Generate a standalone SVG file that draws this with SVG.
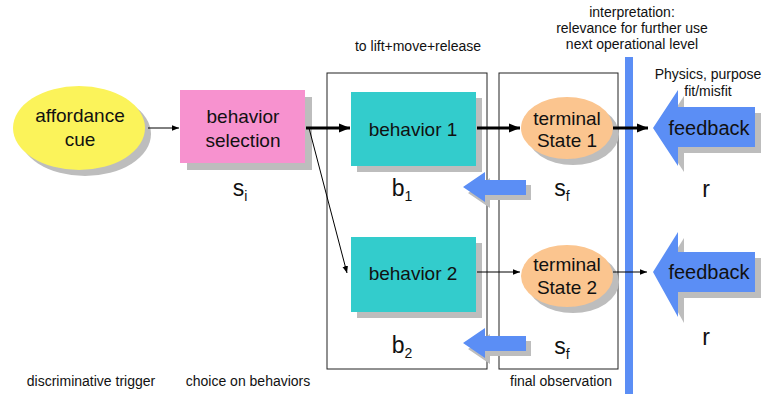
<svg xmlns="http://www.w3.org/2000/svg" width="762" height="394" viewBox="0 0 762 394">
<style>
text{font-family:"Liberation Sans",Arial,sans-serif;fill:#111;text-anchor:middle}
.t{font-size:19px}
.fb{font-size:20px}
.s{font-size:14px}
.big{font-size:23px}
.sub{font-size:14px}
.sh{fill:#bdbdbd}
.frame{fill:none;stroke:#222;stroke-width:1}
.thin{stroke:#000;stroke-width:1;fill:none}
.thick{stroke:#000;stroke-width:3;fill:none}
.blue{fill:#5b8ef5}
</style>
<defs>
<marker id="ah" viewBox="0 0 10 10" refX="10" refY="5" markerWidth="7" markerHeight="7" markerUnits="userSpaceOnUse" orient="auto"><path d="M0,1 L10,5 L0,9 z" fill="#000"/></marker>
<marker id="ahb" viewBox="0 0 10 10" refX="10" refY="5" markerWidth="11" markerHeight="11" markerUnits="userSpaceOnUse" orient="auto"><path d="M0,1 L10,5 L0,9 z" fill="#000"/></marker>
</defs>
<rect class="frame" x="327" y="73" width="160" height="296"/>
<rect class="frame" x="499" y="73" width="119" height="296"/>
<g id="affordance">
<ellipse class="sh" cx="85" cy="134" rx="66" ry="42"/>
<ellipse cx="79" cy="128" rx="66" ry="42" fill="#fbf35a"/>
<text class="t" x="80" y="122">affordance</text>
<text class="t" x="80" y="146">cue</text>
</g>
<g id="selection">
<rect class="sh" x="187" y="97" width="125" height="73"/>
<rect x="180" y="90" width="125" height="73" fill="#f792cf"/>
<text class="t" x="243" y="123">behavior</text>
<text class="t" x="243" y="147">selection</text>
<text class="big" x="240" y="196">s<tspan class="sub" dy="5">i</tspan></text>
</g>
<g id="behavior1">
<rect class="sh" x="357" y="98" width="125" height="74"/>
<rect x="351" y="92" width="125" height="74" fill="#33cccc"/>
<text class="t" x="413" y="136">behavior 1</text>
<text class="big" x="402" y="196">b<tspan class="sub" dy="5">1</tspan></text>
</g>
<g id="behavior2">
<rect class="sh" x="357" y="243" width="125" height="75"/>
<rect x="351" y="237" width="125" height="75" fill="#33cccc"/>
<text class="t" x="413" y="280">behavior 2</text>
<text class="big" x="402" y="353">b<tspan class="sub" dy="5">2</tspan></text>
</g>
<g id="terminal1">
<ellipse class="sh" cx="573" cy="134" rx="46" ry="31"/>
<ellipse cx="567" cy="128" rx="46" ry="31" fill="#fbc58f"/>
<text class="t" x="567" y="125">terminal</text>
<text class="t" x="567" y="147">State 1</text>
<text class="big" x="562" y="196">s<tspan class="sub" dy="5">f</tspan></text>
</g>
<g id="terminal2">
<ellipse class="sh" cx="573" cy="282" rx="46" ry="31"/>
<ellipse cx="567" cy="276" rx="46" ry="31" fill="#fbc58f"/>
<text class="t" x="567" y="271">terminal</text>
<text class="t" x="567" y="294">State 2</text>
<text class="big" x="562" y="354">s<tspan class="sub" dy="5">f</tspan></text>
</g>
<g id="bar">
<rect class="blue" x="625" y="57" width="8" height="337"/>
</g>
<g id="feedback1">
<path class="sh" d="M659,134 L684,96 L684,113 L761,113 L761,153 L684,153 L684,172 z"/>
<path class="blue" d="M653,128 L678,90 L678,107 L755,107 L755,147 L678,147 L678,166 z"/>
<text class="fb" x="709" y="135">feedback</text>
<text class="big" x="706" y="197">r</text>
</g>
<g id="feedback2">
<path class="sh" d="M659,278 L684,238 L684,258 L761,258 L761,298 L684,298 L684,323 z"/>
<path class="blue" d="M653,272 L678,232 L678,252 L755,252 L755,292 L678,292 L678,317 z"/>
<text class="fb" x="709" y="279">feedback</text>
<text class="big" x="706" y="345">r</text>
</g>
<g id="returns">
<path class="sh" d="M468,193 L490,178 L490,185 L531,185 L531,200 L490,200 L490,208 z"/>
<path class="blue" d="M463,187 L485,172 L485,180 L526,180 L526,195 L485,195 L485,202 z"/>
<path class="sh" d="M468,349 L490,334 L490,341 L531,341 L531,356 L490,356 L490,364 z"/>
<path class="blue" d="M463,343 L485,328 L485,336 L526,336 L526,351 L485,351 L485,358 z"/>
</g>
<g id="connectors">
<line class="thin" x1="148" y1="128" x2="179" y2="128" marker-end="url(#ah)"/>
<line class="thick" x1="306" y1="128" x2="350" y2="128" marker-end="url(#ahb)"/>
<line class="thin" x1="309" y1="128" x2="347" y2="273" marker-end="url(#ah)"/>
<line class="thick" x1="477" y1="128" x2="520" y2="128" marker-end="url(#ahb)"/>
<line class="thick" x1="613" y1="128" x2="648" y2="128" marker-end="url(#ahb)"/>
<line class="thin" x1="477" y1="272" x2="520" y2="272" marker-end="url(#ah)"/>
<line class="thin" x1="613" y1="272" x2="647" y2="272" marker-end="url(#ah)"/>
</g>
<g id="labels">
<text class="s" x="632" y="17">interpretation:</text>
<text class="s" x="632" y="33">relevance for further use</text>
<text class="s" x="632" y="49">next operational level</text>
<text class="s" x="708" y="79">Physics, purpose</text>
<text class="s" x="708" y="96">fit/misfit</text>
<text class="s" x="418" y="51">to lift+move+release</text>
<text class="s" x="91" y="386">discriminative trigger</text>
<text class="s" x="248" y="386">choice on behaviors</text>
<text class="s" x="561" y="386">final observation</text>
</g>
</svg>
